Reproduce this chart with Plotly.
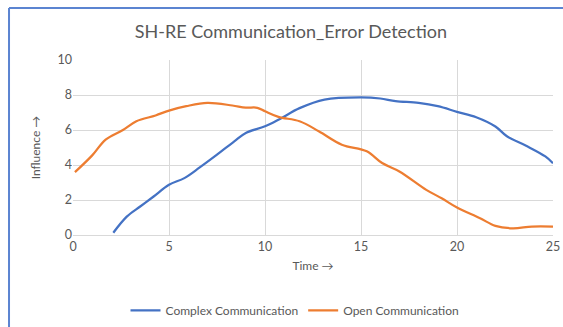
import plotly.graph_objects as go

# ── data ──────────────────────────────────────────────────────────────────────

complex_x = [2.1, 2.8, 3.5, 4.2, 5.0, 5.8, 6.6, 7.5, 8.4, 9.0, 10.0, 10.8, 11.8,
             13.1, 15.0, 16.0, 16.8, 18.0, 19.0, 20.0, 21.0, 22.0, 22.6, 23.6,
             24.6, 25.0]
complex_y = [0.13, 1.05, 1.63, 2.2, 2.87, 3.25, 3.86, 4.59, 5.35, 5.83, 6.21, 6.65,
             7.25, 7.74, 7.86, 7.8, 7.65, 7.55, 7.36, 7.04, 6.73, 6.2, 5.64, 5.1,
             4.49, 4.1]

open_x = [0.1, 1.0, 1.7, 2.6, 3.3, 4.3, 5.0, 5.9, 7.0, 8.3, 9.0, 9.6, 10.0, 10.7,
          11.8, 12.8, 14.0, 15.3, 16.1, 17.0, 18.4, 19.2, 20.0, 21.2, 22.0, 22.9,
          23.9, 25.0]
open_y = [3.59, 4.55, 5.45, 6.0, 6.5, 6.83, 7.11, 7.36, 7.55, 7.4, 7.28, 7.27, 7.07,
          6.75, 6.5, 5.93, 5.16, 4.78, 4.11, 3.63, 2.58, 2.1, 1.57, 0.96, 0.52, 0.38,
          0.48, 0.48]

x_ticks = [0, 5, 10, 15, 20, 25]
y_ticks = [0, 2, 4, 6, 8, 10]

# ── style ─────────────────────────────────────────────────────────────────────

FONT = 'Lato, "Open Sans", sans-serif'
GREY = '#595959'
GRID = '#d9d9d9'
BORDER = '#5b84d1'

fig = go.Figure()
fig.add_trace(go.Scatter(x=complex_x, y=complex_y, mode='lines',
                         name='Complex Communication',
                         line=dict(color='#4472c4', width=2.25, shape='spline')))
fig.add_trace(go.Scatter(x=open_x, y=open_y, mode='lines',
                         name='Open Communication',
                         line=dict(color='#ed7d31', width=2.25, shape='spline')))

fig.update_layout(
    width=563, height=327,
    margin=dict(l=73, r=10, t=60, b=92, autoexpand=False),
    plot_bgcolor='white', paper_bgcolor='white',
    font=dict(family=FONT, color=GREY, size=12),
    title=dict(text='SH-RE Communication_Error Detection',
               x=0.454, xref='paper', xanchor='center',
               y=1 - 32 / 327, yanchor='middle',
               font=dict(size=18, color=GREY, family=FONT), automargin=False),
    legend=dict(orientation='h', x=0.4625, xanchor='center',
                y=-0.43, yanchor='middle', font=dict(size=12, color=GREY),
                itemwidth=30, tracegroupgap=0),
    xaxis=dict(range=[0, 25], tickvals=x_ticks, showgrid=True, gridcolor=GRID,
               zeroline=False, showline=True, linecolor=GRID, ticks='',
               automargin=False,
               title=dict(text='Time →', font=dict(size=12, color=GREY), standoff=8),
               tickfont=dict(size=12.5, color=GREY)),
    yaxis=dict(range=[0, 10], tickvals=y_ticks, showgrid=True, gridcolor=GRID,
               zeroline=False, showline=False, ticks='', automargin=False,
               title=dict(text='Influence →', font=dict(size=12, color=GREY), standoff=14),
               tickfont=dict(size=12.5, color=GREY)),
)

# chart frame edge (top and left) as in the cropped original
fig.add_shape(type='line', xref='paper', yref='paper',
              x0=-0.1333, x1=1.03, y0=1.297, y1=1.297,
              line=dict(color=BORDER, width=2))
fig.add_shape(type='line', xref='paper', yref='paper',
              x0=-0.1333, x1=-0.1333, y0=1.297, y1=-0.55,
              line=dict(color=BORDER, width=2))

# drop the default page margin so the figure sits at the window's corner
fig.write_html("out.html", config={'displayModeBar': False},
               post_script="document.body.style.margin='0';")
